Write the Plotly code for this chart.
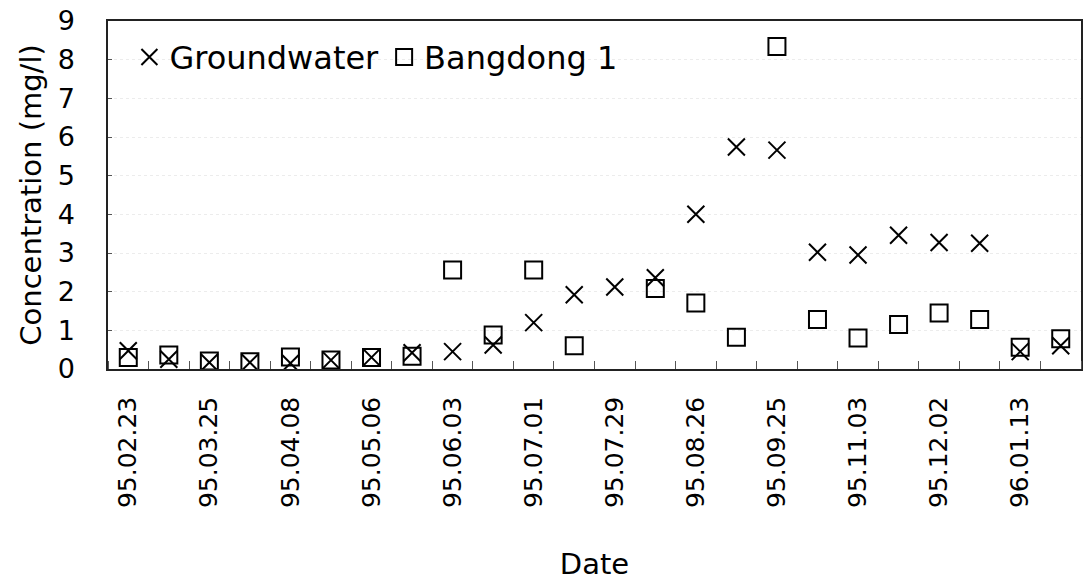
import plotly.graph_objects as go

tick_labels = ["95.02.23", "95.03.25", "95.04.08", "95.05.06", "95.06.03", "95.07.01",
               "95.07.29", "95.08.26", "95.09.25", "95.11.03", "95.12.02", "96.01.13"]

groundwater = [0.47, 0.25, 0.17, 0.17, 0.15, 0.23, 0.30, 0.42, 0.45, 0.62, 1.20, 1.92,
               2.12, 2.36, 4.00, 5.74, 5.66, 3.02, 2.95, 3.46, 3.27, 3.25, 0.45, 0.60]
bangdong1 = [0.30, 0.36, 0.21, 0.19, 0.31, 0.23, 0.30, 0.33, 2.56, 0.88, 2.56, 0.60,
             None, 2.08, 1.71, 0.82, 8.34, 1.28, 0.80, 1.15, 1.45, 1.28, 0.56, 0.78]

n = len(groundwater)
x = list(range(n))

FONT = "DejaVu Sans, Liberation Sans, Arial, sans-serif"

fig = go.Figure()
fig.add_trace(go.Scatter(
    x=x, y=groundwater, mode="markers", name="Groundwater",
    marker=dict(symbol="x-thin-open", size=17, color="black",
                line=dict(color="black", width=2)),
))
fig.add_trace(go.Scatter(
    x=x, y=bangdong1, mode="markers", name="Bangdong 1",
    marker=dict(symbol="square-open", size=17, color="black",
                line=dict(color="black", width=2)),
))

fig.update_layout(
    width=1088, height=581,
    margin=dict(l=108, r=5, t=17, b=209),
    paper_bgcolor="white", plot_bgcolor="white",
    font=dict(family=FONT, color="black", size=27),
    showlegend=True,
    legend=dict(
        orientation="h", x=0.022, y=0.975, xanchor="left", yanchor="top",
        font=dict(size=32, family=FONT), bgcolor="rgba(255,255,255,0)",
        borderwidth=0, itemwidth=30, tracegroupgap=0,
    ),
    xaxis=dict(
        range=[-0.5, n - 0.5],
        tickmode="array",
        tickvals=x[::2],
        ticktext=tick_labels,
        tickangle=-90,
        ticks="",
        ticklabelstandoff=16,
        tickfont=dict(size=25),
        showgrid=False, zeroline=False,
        showline=True, linecolor="#222", linewidth=1.5, mirror=True,
        minor=dict(tick0=-0.5, dtick=1, ticks="inside", ticklen=8,
                   tickcolor="#555", tickwidth=1, showgrid=False),
        title=dict(text="Date", font=dict(size=29), standoff=48),
    ),
    yaxis=dict(
        range=[0, 9], dtick=1,
        ticks="inside", ticklen=4, tickcolor="#555",
        ticklabelstandoff=26,
        tickfont=dict(size=27),
        showgrid=True, gridcolor="#ececec", griddash="dot", gridwidth=1,
        zeroline=False,
        showline=True, linecolor="#222", linewidth=1.5, mirror=True,
        title=dict(text="Concentration (mg/l)", font=dict(size=29), standoff=8),
    ),
)

fig.write_html("out.html")
